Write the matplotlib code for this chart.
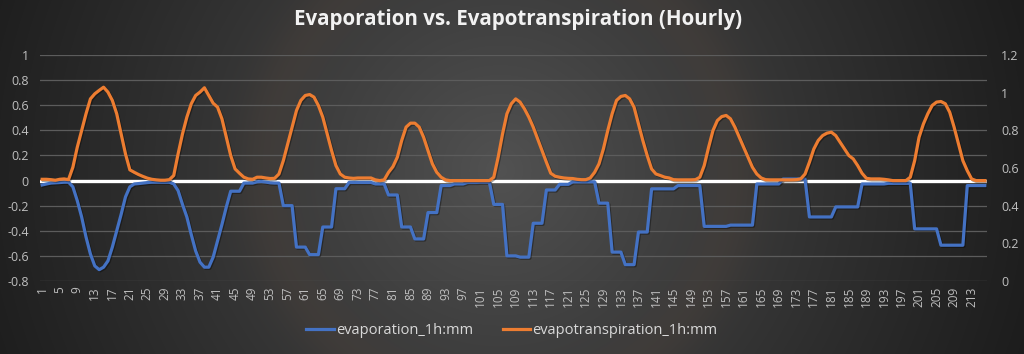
import numpy as np
import matplotlib
matplotlib.use("Agg")
import matplotlib.pyplot as plt
from matplotlib import patheffects as pe

# ---------------- data ----------------
hours = list(range(1, 217))

evaporation = (
    [-0.035, -0.027, -0.02, -0.018, -0.016, -0.013, -0.013, -0.05, -0.16, -0.29,
     -0.45, -0.585, -0.68, -0.71, -0.69, -0.64, -0.53, -0.40, -0.27, -0.13,
     -0.05, -0.027, -0.024, -0.02, -0.016, -0.013, -0.013, -0.013, -0.013, -0.013,
     -0.027, -0.08, -0.19, -0.29, -0.43, -0.56, -0.65, -0.69, -0.69, -0.61,
     -0.48, -0.35, -0.21, -0.085, -0.085, -0.085, -0.02, -0.02, -0.02, -0.01,
     -0.008, -0.012, -0.018, -0.02, -0.02]
    + [-0.2] * 3 + [-0.53] * 3 + [-0.59] * 3 + [-0.37] * 3 + [-0.065] * 3
    + [-0.015] * 6 + [-0.027] * 3 + [-0.115] * 3 + [-0.37] * 3 + [-0.465] * 3
    + [-0.255] * 3 + [-0.04] * 3 + [-0.027] * 3 + [-0.015] * 3 + [-0.013] * 3
    + [-0.19] * 3 + [-0.60] * 3 + [-0.61] * 3 + [-0.34] * 3 + [-0.075] * 3
    + [-0.03] * 3 + [-0.01] * 6 + [-0.18] * 3 + [-0.57] * 3 + [-0.67] * 3
    + [-0.41] * 3 + [-0.066] * 6 + [-0.04] * 6 + [-0.365] * 6 + [-0.355] * 6
    + [-0.027] * 6 + [0.012] * 6 + [-0.29] * 6 + [-0.21] * 6 + [-0.027] * 6
    + [-0.022] * 6 + [-0.385] * 6 + [-0.515] * 6 + [-0.04] * 5
)

evapotranspiration = [
    0.540, 0.540, 0.538, 0.535, 0.540, 0.542, 0.538, 0.604, 0.710, 0.799,
    0.888, 0.967, 0.994, 1.012, 1.029, 1.003, 0.959, 0.888, 0.781, 0.675,
    0.590, 0.577, 0.565, 0.555, 0.546, 0.540, 0.537, 0.535, 0.535, 0.538,
    0.560, 0.675, 0.781, 0.870, 0.941, 0.985, 1.003, 1.026, 0.985, 0.944,
    0.923, 0.861, 0.763, 0.666, 0.595, 0.572, 0.551, 0.542, 0.540, 0.551,
    0.551, 0.547, 0.544, 0.545, 0.568, 0.639, 0.728, 0.817, 0.905, 0.959,
    0.985, 0.990, 0.976, 0.932, 0.870, 0.781, 0.693, 0.613, 0.568, 0.551,
    0.547, 0.545, 0.547, 0.547, 0.547, 0.547, 0.537, 0.533, 0.537, 0.577,
    0.607, 0.657, 0.746, 0.817, 0.838, 0.838, 0.817, 0.763, 0.693, 0.622,
    0.577, 0.551, 0.537, 0.533, 0.533, 0.533, 0.533, 0.533, 0.533, 0.533,
    0.533, 0.533, 0.533, 0.551, 0.657, 0.781, 0.888, 0.941, 0.967, 0.950,
    0.914, 0.870, 0.817, 0.755, 0.693, 0.631, 0.572, 0.556, 0.551, 0.547,
    0.545, 0.544, 0.540, 0.538, 0.538, 0.547, 0.577, 0.622, 0.701, 0.799,
    0.888, 0.959, 0.980, 0.985, 0.967, 0.923, 0.834, 0.746, 0.666, 0.595,
    0.568, 0.560, 0.551, 0.547, 0.538, 0.537, 0.537, 0.537, 0.537, 0.538,
    0.551, 0.613, 0.710, 0.799, 0.852, 0.873, 0.879, 0.861, 0.817, 0.763,
    0.710, 0.657, 0.604, 0.568, 0.547, 0.538, 0.537, 0.537, 0.537, 0.537,
    0.537, 0.537, 0.538, 0.542, 0.568, 0.631, 0.701, 0.746, 0.772, 0.785,
    0.790, 0.772, 0.737, 0.701, 0.666, 0.648, 0.613, 0.572, 0.545, 0.542,
    0.542, 0.542, 0.540, 0.537, 0.533, 0.533, 0.533, 0.533, 0.551, 0.639,
    0.763, 0.834, 0.888, 0.932, 0.950, 0.953, 0.941, 0.896, 0.817, 0.728,
    0.639, 0.586, 0.542, 0.533, 0.533, 0.533,
]

left_ticks = [-0.8, -0.6, -0.4, -0.2, 0, 0.2, 0.4, 0.6, 0.8, 1]
left_labels = ["-0.8", "-0.6", "-0.4", "-0.2", "0", "0.2", "0.4", "0.6", "0.8", "1"]
right_ticks = [0, 0.2, 0.4, 0.6, 0.8, 1, 1.2]
right_labels = ["0", "0.2", "0.4", "0.6", "0.8", "1", "1.2"]
x_ticks = list(range(1, 217, 4))

title = "Evaporation vs. Evapotranspiration (Hourly)"
name_evap = "evaporation_1h:mm"
name_et = "evapotranspiration_1h:mm"

# ---------------- figure ----------------
W, H = 1024, 354
fig = plt.figure(figsize=(W / 100, H / 100), dpi=100)
plt.rcParams['font.family'] = ['Open Sans', 'DejaVu Sans']

# radial gradient background
bg = fig.add_axes([0, 0, 1, 1], zorder=-10)
yy, xx = np.mgrid[0:H, 0:W]
d = np.sqrt((xx - 500.0) ** 2 + (yy - 170.0) ** 2) / 560.0
v = 82 - 54 * np.clip(d, 0, 1) ** 0.9
img = np.stack([v, v, v], axis=-1)
# subtle warm ring
ring = np.exp(-((d - 0.42) / 0.05) ** 2) * 6
img[..., 0] += ring
img[..., 1] += ring * 0.4
img = np.clip(img / 255.0, 0, 1)
bg.imshow(img, extent=[0, W, H, 0], aspect='auto')
bg.axis('off')

ax = fig.add_axes([40 / W, 1 - 281 / H, 947 / W, 226 / H])
ax.patch.set_alpha(0)
ax2 = ax.twinx()
ax2.patch.set_alpha(0)

blue = '#4472C4'
orange = '#ED7D31'
shadow = [pe.SimpleLineShadow(offset=(0.8, -0.8), alpha=0.35, shadow_color='black'), pe.Normal()]

ax.set_ylim(-0.8, 1.0)
ax.set_xlim(0.5, 216.5)
for t in left_ticks:
    ax.axhline(t, color='#5c5c5c', lw=0.9, zorder=0)
ax.axhline(0, color='white', lw=2.4, zorder=1)

l1, = ax.plot(hours, evaporation, color=blue, lw=2.3, zorder=3,
              solid_joinstyle='round', path_effects=shadow)
ax2.set_ylim(0, 1.2)
l2, = ax2.plot(hours, evapotranspiration, color=orange, lw=2.3, zorder=3,
               solid_joinstyle='round', path_effects=shadow)

for a in (ax, ax2):
    for s in a.spines.values():
        s.set_visible(False)
    a.tick_params(length=0, colors='#bfbfbf')

ax.set_yticks(left_ticks)
ax.set_yticklabels(left_labels, fontsize=9, color='#bfbfbf')
ax.tick_params(axis='y', pad=8)
ax2.set_yticks(right_ticks)
ax2.set_yticklabels(right_labels, fontsize=9, color='#bfbfbf')
ax2.tick_params(axis='y', pad=10)
ax.set_xticks(x_ticks)
ax.set_xticklabels([str(t) for t in x_ticks], rotation=90, fontsize=8.5, color='#bfbfbf')
ax.tick_params(axis='x', pad=4)

fig.text(518 / W, 1 - 20 / H, title, ha='center', va='center', fontsize=14.8,
         fontweight='bold', color='#f2f2f2')

leg = fig.legend([l1, l2], [name_evap, name_et], loc='center', ncol=2,
                 bbox_to_anchor=(0.5, 1 - 331 / H), frameon=False,
                 fontsize=10.5, labelcolor='#d9d9d9', handlelength=1.9,
                 handletextpad=0.15, columnspacing=2.0)
for h in leg.legend_handles:
    h.set_path_effects([])

fig.savefig('out.png', dpi=100)
